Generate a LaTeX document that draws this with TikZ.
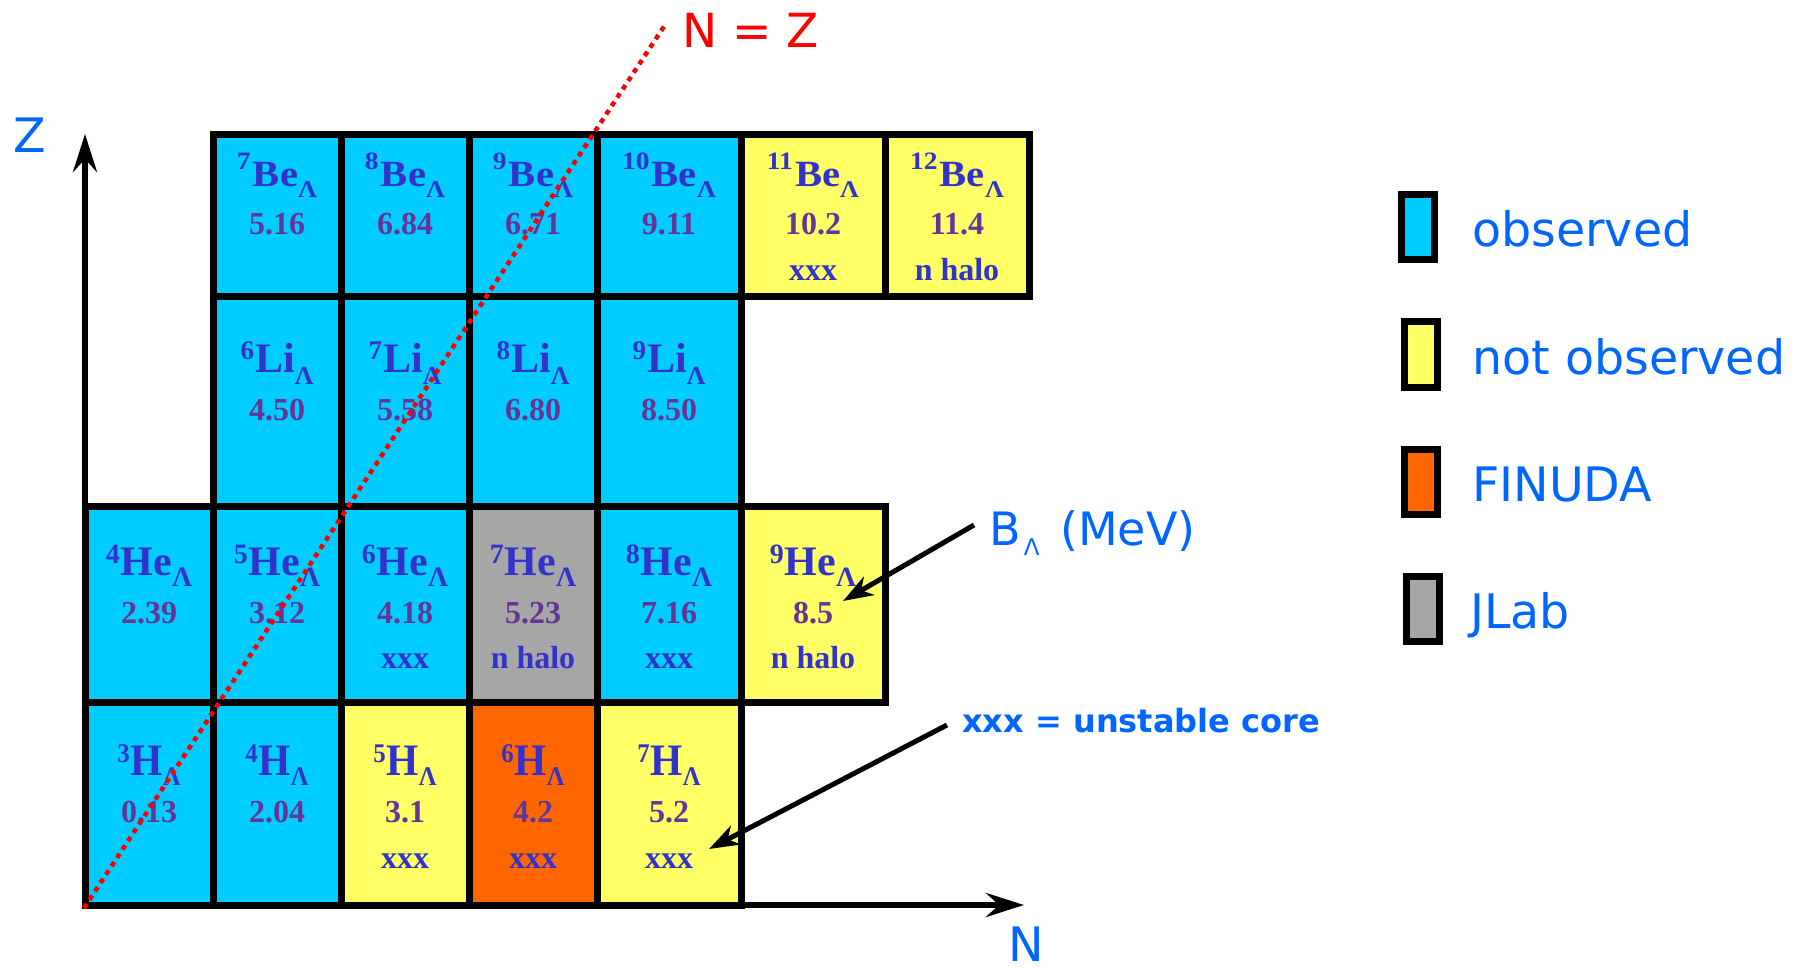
\documentclass[tikz,border=0pt]{standalone}
\usepackage{fontspec}
\setmainfont{Liberation Serif}
\newfontfamily\dvs{DejaVu Sans}
\usetikzlibrary{arrows.meta}
\definecolor{obs}{HTML}{00CCFF}
\definecolor{nobs}{HTML}{FFFF66}
\definecolor{finu}{HTML}{FF6600}
\definecolor{jlab}{HTML}{A6A6A6}
\definecolor{elblue}{HTML}{3333CC}
\definecolor{numpur}{HTML}{663399}
\definecolor{txtblue}{HTML}{0066FF}
% row-dependent label metrics
\newcommand{\rowfont}[7]{\def\labsize{#1}\def\hs{#2}\def\supsize{#3}\def\supraise{#4}\def\lamsize{#5}\def\lamlower{#6}\def\supgap{#7}}
\newcommand{\hyp}[2]{\scalebox{\hs}[1]{\fontsize{\labsize}{\labsize}\selectfont\raisebox{\supraise}{\fontsize{\supsize}{\supsize}\selectfont #1}\kern\supgap #2\raisebox{-\lamlower}{\fontsize{\lamsize}{\lamsize}\selectfont Λ}}}
\tikzset{
  cell/.style={draw=black, line width=7pt, inner sep=0pt, rectangle},
  el/.style={anchor=base, inner sep=0pt, text=elblue, font=\bfseries},
  numtxt/.style={anchor=base, inner sep=0pt, text=numpur, font=\bfseries\fontsize{32}{32}\selectfont},
  notetxt/.style={anchor=base, inner sep=0pt, text=elblue, font=\bfseries\fontsize{32}{32}\selectfont},
  lbox/.style={draw=black, line width=7pt, inner sep=0pt, minimum width=33pt, minimum height=65pt},
  leg/.style={anchor=base west, inner sep=0pt, text=txtblue, font=\dvs\fontsize{47.5}{47.5}\selectfont},
  axisline/.style={line width=6pt, -{Stealth[length=38pt,width=24pt,inset=13pt]}},
  ann/.style={line width=5pt, -{Stealth[length=30pt,width=21pt,inset=9pt]}},
  nz/.style={red, line width=4.5pt, dash pattern=on 5pt off 5pt}
}
\newcommand{\mkcell}[6]{\node[cell,fill=#6,minimum width={(#4-#2)*1pt},minimum height={(#5-#3)*1pt}] (#1) at ({(#2+#4)/2},{(#3+#5)/2}) {};}
\newcommand{\mklab}[5]{\node[el] (#1l) at (#2,#3) {\hyp{#4}{#5}};}
\newcommand{\mknum}[4]{\node[numtxt] (#1n) at (#2,#3) {#4};}
\newcommand{\mknote}[4]{\node[notetxt] (#1x) at (#2,#3) {#4};}
\begin{document}
\begin{tikzpicture}[x=1pt,y=-1pt]
\useasboundingbox (0,0) rectangle (1794,968);
% Be row
\mkcell{be7}{213}{135}{341}{297}{obs}
\mkcell{be8}{341}{135}{469}{297}{obs}
\mkcell{be9}{469}{135}{597}{297}{obs}
\mkcell{be10}{597}{135}{741}{297}{obs}
\mkcell{be11}{741}{135}{885}{297}{nobs}
\mkcell{be12}{885}{135}{1029}{297}{nobs}
% Li row
\mkcell{li6}{213}{297}{341}{506}{obs}
\mkcell{li7}{341}{297}{469}{506}{obs}
\mkcell{li8}{469}{297}{597}{506}{obs}
\mkcell{li9}{597}{297}{741}{506}{obs}
% He row
\mkcell{he4}{85}{506}{213}{702}{obs}
\mkcell{he5}{213}{506}{341}{702}{obs}
\mkcell{he6}{341}{506}{469}{702}{obs}
\mkcell{he7}{469}{506}{597}{702}{jlab}
\mkcell{he8}{597}{506}{741}{702}{obs}
\mkcell{he9}{741}{506}{885}{702}{nobs}
% H row
\mkcell{h3}{85}{702}{213}{905}{obs}
\mkcell{h4}{213}{702}{341}{905}{obs}
\mkcell{h5}{341}{702}{469}{905}{nobs}
\mkcell{h6}{469}{702}{597}{905}{finu}
\mkcell{h7}{597}{702}{741}{905}{nobs}
% Be texts
\rowfont{37}{1.1}{25}{17pt}{24}{11pt}{2pt}
\mklab{be7}{277}{187}{7}{Be}   \mknum{be7}{277}{235}{5.16}
\mklab{be8}{405}{187}{8}{Be}   \mknum{be8}{405}{235}{6.84}
\mklab{be9}{533}{187}{9}{Be}   \mknum{be9}{533}{235}{6.71}
\mklab{be10}{669}{187}{10}{Be} \mknum{be10}{669}{235}{9.11}
\mklab{be11}{813}{187}{11}{Be} \mknum{be11}{813}{235}{10.2} \mknote{be11}{813}{281}{xxx}
\mklab{be12}{957}{187}{12}{Be} \mknum{be12}{957}{235}{11.4} \mknote{be12}{957}{281}{n halo}
% Li texts
\rowfont{42}{1}{27}{13pt}{26}{12pt}{1pt}
\mklab{li6}{277}{372}{6}{Li} \mknum{li6}{277}{420}{4.50}
\mklab{li7}{405}{372}{7}{Li} \mknum{li7}{405}{420}{5.58}
\mklab{li8}{533}{372}{8}{Li} \mknum{li8}{533}{420}{6.80}
\mklab{li9}{669}{372}{9}{Li} \mknum{li9}{669}{420}{8.50}
% He texts
\rowfont{42}{1}{28}{12pt}{28}{11pt}{1pt}
\mklab{he4}{149}{575}{4}{He} \mknum{he4}{149}{623}{2.39}
\mklab{he5}{277}{575}{5}{He} \mknum{he5}{277}{623}{3.12}
\mklab{he6}{405}{575}{6}{He} \mknum{he6}{405}{623}{4.18} \mknote{he6}{405}{668}{xxx}
\mklab{he7}{533}{575}{7}{He} \mknum{he7}{533}{623}{5.23} \mknote{he7}{533}{668}{n halo}
\mklab{he8}{669}{575}{8}{He} \mknum{he8}{669}{623}{7.16} \mknote{he8}{669}{668}{xxx}
\mklab{he9}{813}{575}{9}{He} \mknum{he9}{813}{623}{8.5}  \mknote{he9}{813}{668}{n halo}
% H texts
\rowfont{45}{0.92}{27}{13pt}{27}{10pt}{1pt}
\mklab{h3}{149}{775}{3}{H} \mknum{h3}{149}{822}{0.13}
\mklab{h4}{277}{775}{4}{H} \mknum{h4}{277}{822}{2.04}
\mklab{h5}{405}{775}{5}{H} \mknum{h5}{405}{822}{3.1} \mknote{h5}{405}{868}{xxx}
\mklab{h6}{533}{775}{6}{H} \mknum{h6}{533}{822}{4.2} \mknote{h6}{533}{868}{xxx}
\mklab{h7}{669}{775}{7}{H} \mknum{h7}{669}{822}{5.2} \mknote{h7}{669}{868}{xxx}
% axes
\coordinate (O) at (85,905);
\coordinate (Ztip) at (85,134);
\coordinate (Nstart) at (741,905);
\coordinate (Ntip) at (1024,905);
\draw[axisline] (O) -- (Ztip);
\draw[axisline] (Nstart) -- (Ntip);
\node[leg] (zlab) at (13,153) {Z};
\node[leg] (nlab) at (1008,961) {N};
% N = Z line
\coordinate (nz0) at (84,908);
\coordinate (nz1) at (665,25);
\draw[nz] (nz0) -- (nz1);
\node[leg, text=red, font=\dvs\fontsize{47}{47}\selectfont] (nzlab) at (682,48) {N = Z};
% annotations
\node[leg, font=\dvs\fontsize{46}{46}\selectfont] (blab) at (989,545) {B\kern3pt\raisebox{-10pt}{\fontsize{23}{23}\selectfont Λ}\kern6pt{} (MeV)};
\coordinate (bl0) at (974,525);
\coordinate (bl1) at (843,601);
\draw[ann] (bl0) -- (bl1);
\node[leg, font=\dvs\bfseries\fontsize{32}{32}\selectfont] (xlab) at (962,732) {xxx = unstable core};
\coordinate (xl0) at (947,725);
\coordinate (xl1) at (709,849);
\draw[ann] (xl0) -- (xl1);
% legend
\node[lbox, fill=obs] (k1) at (1418,227.5) {};
\node[lbox, fill=nobs] (k2) at (1421,354.5) {};
\node[lbox, fill=finu] (k3) at (1421,482) {};
\node[lbox, fill=jlab] (k4) at (1423,609) {};
\node[leg] (k1t) at (1472,247) {observed};
\node[leg] (k2t) at (1472,374) {not observed};
\node[leg] (k3t) at (1472,501) {FINUDA};
\node[leg] (k4t) at (1470,628) {JLab};
\end{tikzpicture}
\end{document}
